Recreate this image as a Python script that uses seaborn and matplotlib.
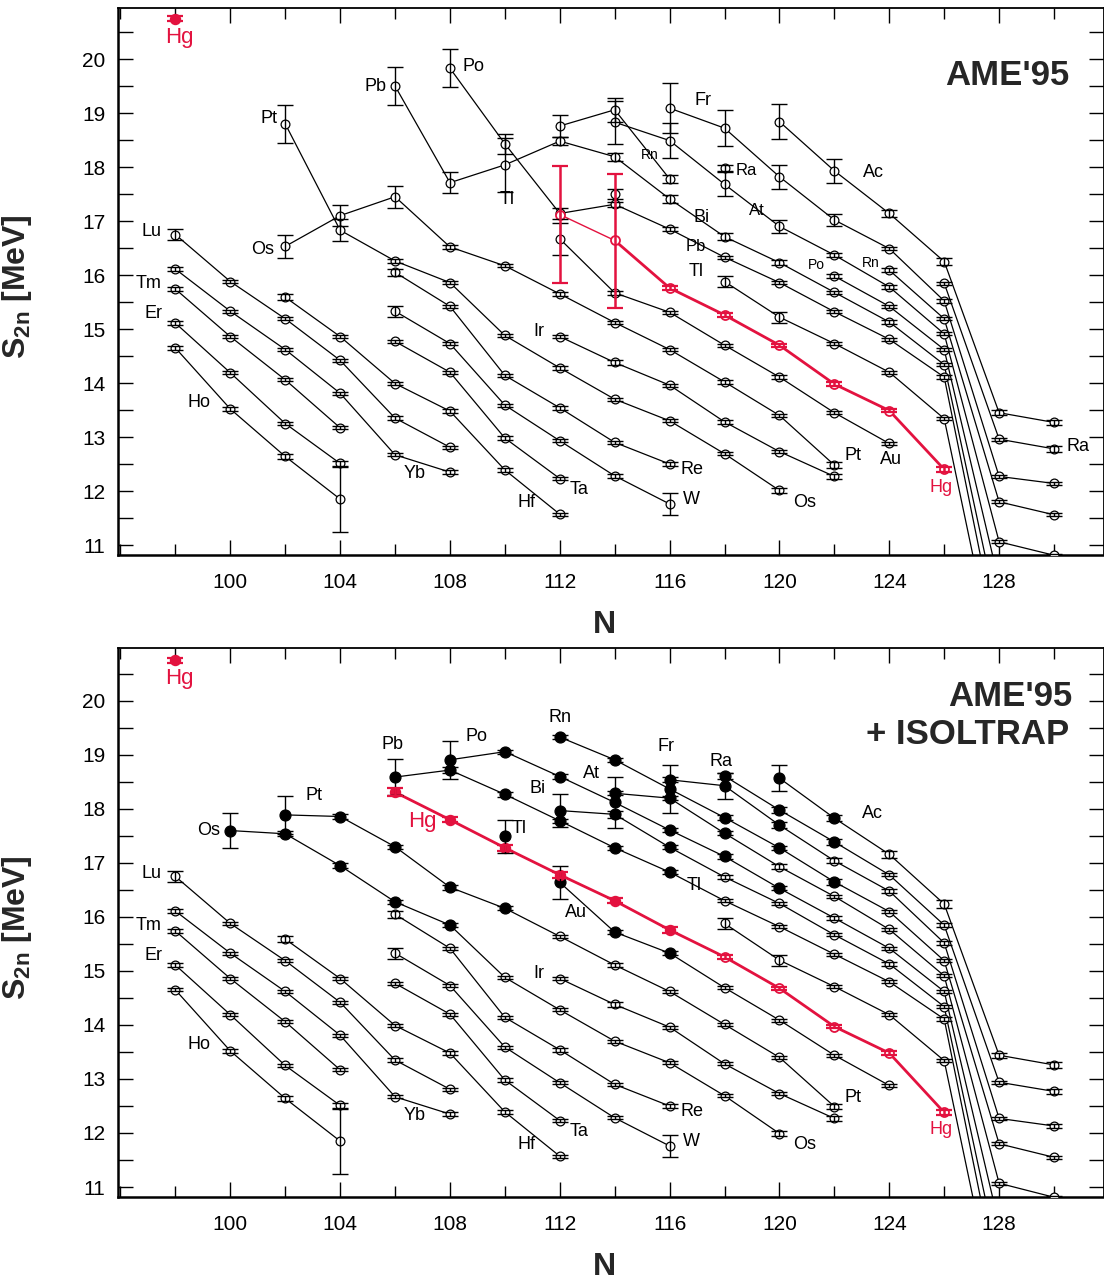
import numpy as np
import pandas as pd
import matplotlib
matplotlib.use("Agg")
import matplotlib.pyplot as plt
from matplotlib.ticker import MultipleLocator
import seaborn as sns

RED = "#E3123F"

# ---------------- chains common to both panels (AME'95 values) ----------------
N_Ho = [98, 100, 102, 104]
S_Ho = [14.65, 13.52, 12.64, 11.85]
E_Ho = [0.03, 0.03, 0.04, 0.60]

N_Er = [98, 100, 102, 104]
S_Er = [15.11, 14.19, 13.25, 12.51]
E_Er = [0.03, 0.03, 0.03, 0.05]

N_Tm = [98, 100, 102, 104]
S_Tm = [15.74, 14.86, 14.06, 13.17]
E_Tm = [0.03, 0.03, 0.03, 0.03]

N_Yb = [98, 100, 102, 104, 106, 108]
S_Yb = [16.11, 15.33, 14.62, 13.81, 12.67, 12.35]
E_Yb = [0.03, 0.03, 0.03, 0.03, 0.03, 0.03]

N_Lu = [98, 100, 102, 104, 106, 108]
S_Lu = [16.75, 15.88, 15.19, 14.42, 13.35, 12.81]
E_Lu = [0.10, 0.03, 0.03, 0.03, 0.03, 0.03]

N_Hf = [102, 104, 106, 108, 110, 112]
S_Hf = [15.59, 14.86, 13.99, 13.48, 12.39, 11.57]
E_Hf = [0.06, 0.03, 0.03, 0.03, 0.03, 0.03]

N_Ta = [106, 108, 110, 112]
S_Ta = [14.77, 14.20, 12.98, 12.23]
E_Ta = [0.03, 0.03, 0.03, 0.03]

N_W = [106, 108, 110, 112, 114, 116]
S_W = [15.33, 14.73, 13.59, 12.93, 12.28, 11.76]
E_W = [0.10, 0.03, 0.03, 0.03, 0.03, 0.20]

N_Re = [106, 108, 110, 112, 114, 116]
S_Re = [16.05, 15.42, 14.14, 13.54, 12.90, 12.50]
E_Re = [0.06, 0.03, 0.03, 0.04, 0.03, 0.04]

N_Ir = [112, 114, 116, 118, 120, 122]
S_Ir = [14.86, 14.38, 13.96, 13.28, 12.73, 12.27]
E_Ir = [0.03, 0.04, 0.03, 0.03, 0.03, 0.05]

# ---------------- upper panel only: AME'95 ----------------
N_Os95 = [102, 104, 106, 108, 110, 112, 114, 116, 118, 120, 122]
S_Os95 = [16.53, 17.10, 17.45, 16.52, 16.17, 15.65, 15.12, 14.62, 14.02, 13.40, 12.48]
E_Os95 = [0.21, 0.20, 0.20, 0.03, 0.03, 0.03, 0.03, 0.03, 0.03, 0.03, 0.05]

N_Pt95 = [102, 104, 106, 108, 110, 112, 114, 116, 118, 120]
S_Pt95 = [18.80, 16.83, 16.26, 15.86, 14.88, 14.28, 13.70, 13.30, 12.69, 12.01]
E_Pt95 = [0.35, 0.20, 0.04, 0.03, 0.03, 0.03, 0.03, 0.03, 0.03, 0.04]

N_Po95 = [108, 110, 112, 114, 116, 118, 120, 122, 124, 126, 128]
S_Po95 = [19.83, 18.43, 17.14, 17.31, 16.85, 16.33, 15.86, 15.32, 14.81, 14.11, 9.10]
E_Po95 = [0.35, 0.19, 0.10, 0.05, 0.04, 0.03, 0.03, 0.03, 0.03, 0.03, 0.03]

N_Pb95 = [106, 108, 110, 112, 114, 116, 118, 120, 122, 124, 126, 128]
S_Pb95 = [19.50, 17.71, 18.04, 18.48, 18.19, 17.41, 16.71, 16.23, 15.68, 15.13, 14.34, 9.60]
E_Pb95 = [0.35, 0.20, 0.50, 0.07, 0.07, 0.08, 0.07, 0.04, 0.03, 0.03, 0.03, 0.03]

N_Rn95a = [112, 114, 116]
S_Rn95a = [18.76, 19.06, 17.78]
E_Rn95a = [0.20, 0.22, 0.08]

N_Bi95 = [114]
S_Bi95 = [17.50]
E_Bi95 = [0.10]

N_At95 = [114, 116, 118, 120, 122, 124, 126, 128, 130]
S_At95 = [18.83, 18.49, 17.68, 16.90, 16.37, 15.78, 14.91, 11.06, 10.81]
E_At95 = [0.40, 0.33, 0.22, 0.12, 0.04, 0.03, 0.03, 0.03, 0.03]

N_Fr95 = [116, 118, 120, 122, 124, 126, 128, 130]
S_Fr95 = [19.09, 18.72, 17.82, 17.02, 16.49, 15.52, 12.27, 12.14]
E_Fr95 = [0.46, 0.33, 0.22, 0.11, 0.03, 0.03, 0.03, 0.03]

N_Ra95a = [118]
S_Ra95a = [17.98]
E_Ra95a = [0.06]

N_Ra95b = [126, 128, 130]
S_Ra95b = [15.85, 12.96, 12.78]
E_Ra95b = [0.03, 0.03, 0.05]

N_Rn95b = [124, 126, 128, 130]
S_Rn95b = [16.09, 15.19, 11.80, 11.56]
E_Rn95b = [0.04, 0.03, 0.03, 0.03]

N_Po95b = [122, 124, 126, 128]
S_Po95b = [15.98, 15.42, 14.62, 10.30]
E_Po95b = [0.04, 0.03, 0.03, 0.03]

N_Ac95 = [120, 122, 124, 126, 128, 130]
S_Ac95 = [18.84, 17.93, 17.14, 16.25, 13.45, 13.27]
E_Ac95 = [0.33, 0.22, 0.07, 0.07, 0.05, 0.05]

N_Tl95a = [118, 120, 122, 124, 126, 128]
S_Tl95a = [15.88, 15.22, 14.73, 14.20, 13.34, 8.50]
E_Tl95a = [0.10, 0.10, 0.03, 0.03, 0.03, 0.03]

N_Au95 = [112, 114, 116, 118, 120, 122, 124]
S_Au95 = [16.67, 15.67, 15.31, 14.70, 14.11, 13.45, 12.88]
E_Au95 = [0.30, 0.04, 0.03, 0.03, 0.03, 0.03, 0.03]

N_Hg95 = [112, 114, 116, 118, 120, 122, 124, 126]
S_Hg95 = [17.12, 16.64, 15.76, 15.26, 14.70, 13.98, 13.49, 12.40]
Elo_Hg95 = [1.27, 1.25, 0.04, 0.04, 0.03, 0.03, 0.03, 0.04]
Ehi_Hg95 = [0.90, 1.24, 0.04, 0.04, 0.03, 0.03, 0.03, 0.04]

# reference Hg marker (top-left corner, both panels)
N_HgRef = [98]
S_HgRef = [20.75]
E_HgRef = [0.04]

# ---------------- lower panel only: AME'95 + ISOLTRAP ----------------
N_Os = [100, 102, 104, 106, 108, 110, 112, 114, 116, 118, 120]
S_Os = [17.60, 17.54, 16.95, 16.28, 15.85, 14.88, 14.28, 13.70, 13.30, 12.69, 11.99]
E_Os = [0.33, 0.05, 0.04, 0.04, 0.04, 0.03, 0.03, 0.03, 0.03, 0.03, 0.04]
F_Os = [1, 1, 1, 1, 1, 0, 0, 0, 0, 0, 0]

N_Pt = [102, 104, 106, 108, 110, 112, 114, 116, 118, 120, 122]
S_Pt = [17.89, 17.86, 17.30, 16.55, 16.16, 15.64, 15.11, 14.62, 14.01, 13.40, 12.49]
E_Pt = [0.35, 0.05, 0.04, 0.05, 0.04, 0.03, 0.03, 0.03, 0.03, 0.03, 0.05]
F_Pt = [1, 1, 1, 1, 1, 0, 0, 0, 0, 0, 0]

N_Pb = [106, 108, 110, 112, 114, 116, 118, 120, 122, 124, 126, 128]
S_Pb = [18.59, 18.72, 18.27, 17.78, 17.28, 16.83, 16.30, 15.82, 15.31, 14.80, 14.11, 9.10]
E_Pb = [0.33, 0.05, 0.04, 0.04, 0.04, 0.04, 0.03, 0.03, 0.03, 0.03, 0.03, 0.03]
F_Pb = [1, 1, 1, 1, 1, 1, 0, 0, 0, 0, 0, 0]

N_Po = [108, 110, 112, 114, 116, 118, 120, 122, 124, 126, 128]
S_Po = [18.91, 19.06, 18.60, 18.12, 17.61, 17.12, 16.53, 15.98, 15.42, 14.62, 10.30]
E_Po = [0.35, 0.04, 0.04, 0.47, 0.04, 0.04, 0.04, 0.03, 0.03, 0.03, 0.03]
F_Po = [1, 1, 1, 1, 1, 1, 1, 0, 0, 0, 0]

N_Rn = [112, 114, 116, 118, 120, 122, 124, 126, 128, 130]
S_Rn = [19.33, 18.91, 18.37, 17.84, 17.28, 16.65, 16.10, 15.19, 11.80, 11.55]
E_Rn = [0.04, 0.04, 0.44, 0.04, 0.04, 0.05, 0.03, 0.03, 0.03, 0.03]
F_Rn = [1, 1, 1, 1, 1, 1, 0, 0, 0, 0]

N_At = [114, 116, 118, 120, 122, 124, 126, 128, 130]
S_At = [18.29, 18.20, 17.55, 16.93, 16.38, 15.77, 14.91, 11.07, 10.81]
E_At = [0.04, 0.04, 0.04, 0.05, 0.03, 0.03, 0.03, 0.03, 0.03]
F_At = [1, 1, 1, 0, 0, 0, 0, 0, 0]

N_Bi = [112, 114, 116, 118, 120, 122, 124, 126, 128]
S_Bi = [17.97, 17.90, 17.29, 16.74, 16.25, 15.67, 15.13, 14.34, 9.60]
E_Bi = [0.30, 0.06, 0.04, 0.03, 0.03, 0.03, 0.03, 0.03, 0.03]
F_Bi = [1, 1, 1, 0, 0, 0, 0, 0, 0]

N_Fr = [116, 118, 120, 122, 124, 126, 128, 130]
S_Fr = [18.54, 18.43, 17.70, 17.04, 16.48, 15.52, 12.27, 12.13]
E_Fr = [0.05, 0.24, 0.05, 0.05, 0.03, 0.03, 0.03, 0.03]
F_Fr = [1, 1, 1, 0, 0, 0, 0, 0]

N_Ra = [118, 120, 122, 124, 126, 128, 130]
S_Ra = [18.61, 17.98, 17.39, 16.78, 15.85, 12.94, 12.77]
E_Ra = [0.05, 0.05, 0.05, 0.03, 0.03, 0.03, 0.05]
F_Ra = [1, 1, 1, 0, 0, 0, 0]

N_Ac = [120, 122, 124, 126, 128, 130]
S_Ac = [18.57, 17.83, 17.16, 16.24, 13.44, 13.26]
E_Ac = [0.24, 0.06, 0.07, 0.07, 0.05, 0.05]
F_Ac = [1, 1, 0, 0, 0, 0]

N_Tl110 = [110]
S_Tl110 = [17.49]
E_Tl110 = [0.30]

N_Tl = [118, 120, 122, 124, 126, 128]
S_Tl = [15.88, 15.20, 14.71, 14.19, 13.34, 8.50]
E_Tl = [0.10, 0.10, 0.03, 0.03, 0.03, 0.03]

N_Au = [112, 114, 116, 118, 120, 122, 124]
S_Au = [16.64, 15.72, 15.33, 14.69, 14.09, 13.44, 12.88]
E_Au = [0.30, 0.04, 0.04, 0.03, 0.03, 0.03, 0.03]
F_Au = [1, 1, 1, 0, 0, 0, 0]

N_Hg = [106, 108, 110, 112, 114, 116, 118, 120, 122, 124, 126]
S_Hg = [18.31, 17.80, 17.28, 16.78, 16.30, 15.76, 15.26, 14.68, 13.97, 13.48, 12.38]
E_Hg = [0.07, 0.05, 0.05, 0.05, 0.05, 0.05, 0.04, 0.03, 0.03, 0.03, 0.04]
F_Hg = [1, 1, 1, 1, 1, 1, 0, 0, 0, 0, 0]

# ---------------- element labels (text, N, S2n, size) ----------------
LAB_COMMON = [("Lu", 97.12, 16.80), ("Tm", 97.01, 15.85), ("Er", 97.20, 15.29),
              ("Ho", 98.87, 13.63), ("Yb", 106.70, 12.33), ("Ir", 111.25, 14.96),
              ("Hf", 110.78, 11.79), ("Ta", 112.71, 12.03), ("Re", 116.82, 12.39),
              ("W", 116.79, 11.85), ("Os", 120.90, 11.79), ("Pt", 122.69, 12.66)]
LAB_TOP = [("Pt", 101.42, 18.89, 13), ("Pb", 105.28, 19.50, 13), ("Po", 108.85, 19.87, 13),
           ("Os", 101.17, 16.48, 13), ("Tl", 110.09, 17.39, 13), ("Rn", 115.26, 18.22, 10),
           ("Fr", 117.22, 19.24, 13), ("Ra", 118.79, 17.94, 12), ("At", 119.16, 17.20, 12),
           ("Bi", 117.15, 17.07, 13), ("Pb", 116.97, 16.52, 12), ("Tl", 116.97, 16.06, 13),
           ("Ac", 123.42, 17.89, 13), ("Po", 121.34, 16.19, 10), ("Rn", 123.34, 16.22, 10),
           ("Au", 124.07, 12.59, 13), ("Ra", 130.88, 12.83, 13)]
LAB_BOT = [("Os", 99.20, 17.61, 13), ("Pt", 103.06, 18.24, 13), ("Pb", 105.90, 19.20, 13),
           ("Po", 108.96, 19.35, 13), ("Tl", 110.52, 17.63, 13), ("Rn", 112.02, 19.70, 13),
           ("Bi", 111.18, 18.37, 13), ("At", 113.15, 18.65, 13), ("Fr", 115.88, 19.15, 13),
           ("Ra", 117.88, 18.87, 13), ("Ac", 123.38, 17.91, 13), ("Au", 112.60, 16.09, 13),
           ("Tl", 116.90, 16.59, 13)]
LAB_HG_TOP = [(98.14, 20.39, 16), (125.89, 12.06, 13)]
LAB_HG_BOT = [(98.14, 20.41, 16), (106.99, 17.76, 16), (125.89, 12.07, 13)]

# ---------------- style ----------------
sns.set_theme(style="ticks")
plt.rcParams["font.family"] = ["Liberation Sans", "DejaVu Sans"]
plt.rcParams["mathtext.fontset"] = "custom"
plt.rcParams["mathtext.rm"] = "Liberation Sans"
plt.rcParams["mathtext.bf"] = "Liberation Sans:bold"


def add(pts, lines, name, N, S, E, kind, style="k", Ehi=None):
    kinds = kind if isinstance(kind, list) else [kind] * len(N)
    Ehi = E if Ehi is None else Ehi
    for n, s, lo, hi, k in zip(N, S, E, Ehi, kinds):
        pts.append(dict(N=n, S=s, elo=lo, ehi=hi, kind=k))
    if style is not None:
        for n, s in zip(N, S):
            lines.append(dict(N=n, S=s, unit=name, style=style))


def fk(flags):
    return ["f" if f else "o" for f in flags]


def fkr(flags):
    return ["rf" if f else "ro" for f in flags]


def common(pts, lines):
    add(pts, lines, "Ho", N_Ho, S_Ho, E_Ho, "o")
    add(pts, lines, "Er", N_Er, S_Er, E_Er, "o")
    add(pts, lines, "Tm", N_Tm, S_Tm, E_Tm, "o")
    add(pts, lines, "Yb", N_Yb, S_Yb, E_Yb, "o")
    add(pts, lines, "Lu", N_Lu, S_Lu, E_Lu, "o")
    add(pts, lines, "Hf", N_Hf, S_Hf, E_Hf, "o")
    add(pts, lines, "Ta", N_Ta, S_Ta, E_Ta, "o")
    add(pts, lines, "W", N_W, S_W, E_W, "o")
    add(pts, lines, "Re", N_Re, S_Re, E_Re, "o")
    add(pts, lines, "Ir", N_Ir, S_Ir, E_Ir, "o")
    add(pts, lines, "HgRef", N_HgRef, S_HgRef, E_HgRef, "rf", None)


def top_data():
    pts, lines = [], []
    common(pts, lines)
    add(pts, lines, "Os95", N_Os95, S_Os95, E_Os95, "o")
    add(pts, lines, "Pt95", N_Pt95, S_Pt95, E_Pt95, "o")
    add(pts, lines, "Po95", N_Po95, S_Po95, E_Po95, "o")
    add(pts, lines, "Pb95", N_Pb95, S_Pb95, E_Pb95, "o")
    add(pts, lines, "Rn95a", N_Rn95a, S_Rn95a, E_Rn95a, "o")
    add(pts, lines, "Bi95", N_Bi95, S_Bi95, E_Bi95, "o")
    add(pts, lines, "At95", N_At95, S_At95, E_At95, "o")
    add(pts, lines, "Fr95", N_Fr95, S_Fr95, E_Fr95, "o")
    add(pts, lines, "Ra95a", N_Ra95a, S_Ra95a, E_Ra95a, "o")
    add(pts, lines, "Ra95b", N_Ra95b, S_Ra95b, E_Ra95b, "o")
    add(pts, lines, "Rn95b", N_Rn95b, S_Rn95b, E_Rn95b, "o")
    add(pts, lines, "Po95b", N_Po95b, S_Po95b, E_Po95b, "o")
    add(pts, lines, "Ac95", N_Ac95, S_Ac95, E_Ac95, "o")
    add(pts, lines, "Tl95a", N_Tl95a, S_Tl95a, E_Tl95a, "o")
    add(pts, lines, "Au95", N_Au95, S_Au95, E_Au95, "o")
    add(pts, lines, "Hg95", N_Hg95, S_Hg95, Elo_Hg95, "ro", None, Ehi=Ehi_Hg95)
    for n, s in zip(N_Hg95[:2], S_Hg95[:2]):
        lines.append(dict(N=n, S=s, unit="Hg95thin", style="rthin"))
    for n, s in zip(N_Hg95[1:], S_Hg95[1:]):
        lines.append(dict(N=n, S=s, unit="Hg95", style="r"))
    return pd.DataFrame(pts), pd.DataFrame(lines)


def bot_data():
    pts, lines = [], []
    common(pts, lines)
    add(pts, lines, "Os", N_Os, S_Os, E_Os, fk(F_Os))
    add(pts, lines, "Pt", N_Pt, S_Pt, E_Pt, fk(F_Pt))
    add(pts, lines, "Pb", N_Pb, S_Pb, E_Pb, fk(F_Pb))
    add(pts, lines, "Po", N_Po, S_Po, E_Po, fk(F_Po))
    add(pts, lines, "Rn", N_Rn, S_Rn, E_Rn, fk(F_Rn))
    add(pts, lines, "At", N_At, S_At, E_At, fk(F_At))
    add(pts, lines, "Bi", N_Bi, S_Bi, E_Bi, fk(F_Bi))
    add(pts, lines, "Fr", N_Fr, S_Fr, E_Fr, fk(F_Fr))
    add(pts, lines, "Ra", N_Ra, S_Ra, E_Ra, fk(F_Ra))
    add(pts, lines, "Ac", N_Ac, S_Ac, E_Ac, fk(F_Ac))
    add(pts, lines, "Tl110", N_Tl110, S_Tl110, E_Tl110, "f", None)
    add(pts, lines, "Tl", N_Tl, S_Tl, E_Tl, "o")
    add(pts, lines, "Au", N_Au, S_Au, E_Au, fk(F_Au))
    add(pts, lines, "Hg", N_Hg, S_Hg, E_Hg, fkr(F_Hg), "r")
    return pd.DataFrame(pts), pd.DataFrame(lines)


MARK = {"o": dict(s=40, fc="white", ec="black", lw=0.9),
        "f": dict(s=62, fc="black", ec="black", lw=0.9),
        "ro": dict(s=42, fc="white", ec=RED, lw=1.3),
        "rf": dict(s=52, fc=RED, ec=RED, lw=1.0)}


def draw(ax, pts, lines):
    for style, lw, col in [("k", 0.9, "black"), ("r", 2.0, RED), ("rthin", 1.0, RED)]:
        sub = lines[lines["style"] == style]
        if len(sub):
            sns.lineplot(data=sub, x="N", y="S", units="unit", estimator=None,
                         color=col, linewidth=lw, ax=ax, legend=False, sort=True,
                         zorder=2)
    for k, st in MARK.items():
        sub = pts[pts["kind"] == k]
        if len(sub):
            sns.scatterplot(data=sub, x="N", y="S", marker="o", s=st["s"],
                            color=st["fc"], edgecolor=st["ec"], linewidth=st["lw"],
                            ax=ax, legend=False, zorder=4)
    blk = pts[~pts["kind"].str.startswith("r")]
    red = pts[pts["kind"].str.startswith("r")]
    ax.errorbar(blk["N"], blk["S"], yerr=[blk["elo"], blk["ehi"]], fmt="none",
                ecolor="black", elinewidth=1.0, capsize=6, capthick=1.0, zorder=5)
    ax.errorbar(red["N"], red["S"], yerr=[red["elo"], red["ehi"]], fmt="none",
                ecolor=RED, elinewidth=1.8, capsize=6, capthick=1.6, zorder=5)


def style_axes(ax, ylim):
    ax.set_xlim(95.91, 131.82)
    ax.set_ylim(*ylim)
    ax.xaxis.set_major_locator(MultipleLocator(4))
    ax.xaxis.set_minor_locator(MultipleLocator(2))
    ax.yaxis.set_major_locator(MultipleLocator(1))
    ax.yaxis.set_minor_locator(MultipleLocator(0.5))
    ax.tick_params(which="both", direction="in", top=True, right=True, width=1.0,
                   colors="black")
    ax.tick_params(which="major", length=11, labelsize=15)
    ax.tick_params(axis="x", which="major", pad=13)
    ax.tick_params(axis="y", which="major", pad=9)
    ax.tick_params(which="minor", length=8)
    ax.tick_params(axis="y", which="minor", length=11)
    ax.set_xticks([100, 104, 108, 112, 116, 120, 124, 128])
    ax.set_yticks(range(11, 21))
    for sp in ["left", "bottom"]:
        ax.spines[sp].set_linewidth(1.8)
    for sp in ["top", "right"]:
        ax.spines[sp].set_linewidth(1.3)
    for sp in ax.spines.values():
        sp.set_color("black")
    ax.set_xlabel("N", fontsize=23, fontweight="bold")
    ax.set_ylabel(r"$\mathbf{S_{2n}}$ [MeV]", fontsize=23, fontweight="bold")
    ax.xaxis.set_label_coords(0.493, -0.100)
    ax.yaxis.set_label_coords(-0.085, 0.49)


def labels(ax, extra, hg):
    for t, n, s in LAB_COMMON:
        ax.text(n, s, t, ha="center", va="center", fontsize=13, color="black", zorder=6)
    for t, n, s, fs in extra:
        ax.text(n, s, t, ha="center", va="center", fontsize=fs, color="black", zorder=6)
    for n, s, fs in hg:
        ax.text(n, s, "Hg", ha="center", va="center", fontsize=fs, color=RED, zorder=6)


fig = plt.figure(figsize=(11.04, 12.81), dpi=100)
ax_top = fig.add_axes([118 / 1104, 1 - 555 / 1281, 986 / 1104, 547 / 1281])
ax_bot = fig.add_axes([118 / 1104, 1 - 1197 / 1281, 986 / 1104, 549 / 1281])

p, l = top_data()
draw(ax_top, p, l)
style_axes(ax_top, (10.815, 20.945))
labels(ax_top, LAB_TOP, LAB_HG_TOP)
ax_top.text(0.965, 0.877, "AME'95", transform=ax_top.transAxes, ha="right",
            va="center", fontsize=25, fontweight="bold")

p, l = bot_data()
draw(ax_bot, p, l)
style_axes(ax_bot, (10.815, 20.98))
labels(ax_bot, LAB_BOT, LAB_HG_BOT)
ax_bot.text(0.968, 0.912, "AME'95", transform=ax_bot.transAxes, ha="right",
            va="center", fontsize=25, fontweight="bold")
ax_bot.text(0.965, 0.843, "+ ISOLTRAP", transform=ax_bot.transAxes, ha="right",
            va="center", fontsize=25, fontweight="bold")

fig.savefig("out.png", dpi=100)
